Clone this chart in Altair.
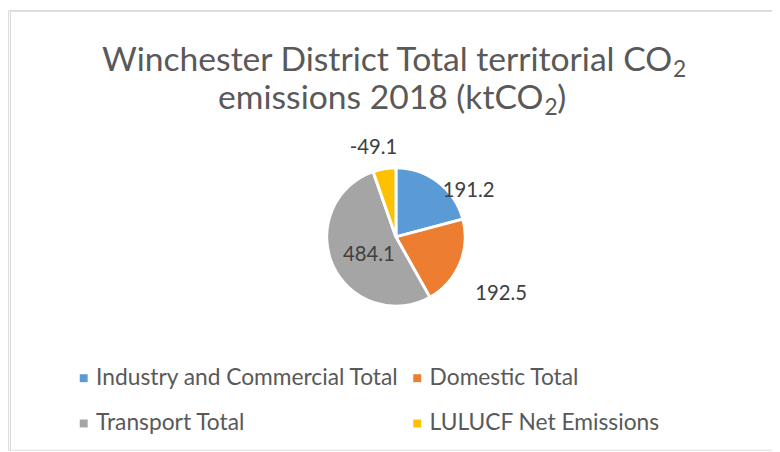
import altair as alt
import pandas as pd

categories = ["Industry and Commercial Total", "Domestic Total", "Transport Total", "LULUCF Net Emissions"]
values = [191.2, 192.5, 484.1, -49.1]
colors = ["#5B9BD5", "#ED7D31", "#A5A5A5", "#FFC000"]
title_line1 = "Winchester District Total territorial CO"
title_line2 = "emissions 2018 (ktCO"
title_sub = "2"
title_close = ")"

FONT = "Lato"
W, H = 772, 444
CX, CY, R = 392, 229, 70

df = pd.DataFrame({"category": categories, "value": values, "order": list(range(len(categories)))})

# label layout (Excel "best fit" style): radius and angular shift per slice
lab_rad = {categories[0]: 87, categories[1]: 121, categories[2]: 33, categories[3]: 93}
lab_shift = {categories[0]: 20, categories[1]: 5.6, categories[2]: -10, categories[3]: -4.5}

def case_expr(d):
    expr = "0"
    for k, v in d.items():
        expr = f"datum.category === '{k}' ? {v} : ({expr})"
    return expr

base = alt.Chart(df).transform_calculate(absval="abs(datum.value)")

pie = base.mark_arc(outerRadius=R, stroke="white", strokeWidth=3).encode(
    theta=alt.Theta("absval:Q", stack=True),
    order=alt.Order("order:Q"),
    color=alt.Color(
        "category:N",
        scale=alt.Scale(domain=categories, range=colors),
        sort=categories,
        legend=alt.Legend(
            orient="none", legendX=65, legendY=360, columns=2, direction="horizontal",
            title=None, symbolType="square", symbolSize=64, symbolStrokeWidth=0,
            labelFontSize=23, labelFont=FONT, labelColor="#595959",
            labelOffset=1, labelLimit=0, rowPadding=22, columnPadding=6,
        ),
    ),
    x=alt.value(CX),
    y=alt.value(CY),
)

labels = base.transform_joinaggregate(
    total="sum(absval)"
).transform_window(
    cum="sum(absval)", sort=[alt.SortField("order")], frame=[None, 0]
).transform_calculate(
    mid="(datum.cum - datum.absval/2) / datum.total * 360",
    rad=case_expr(lab_rad),
    shift=case_expr(lab_shift),
    label="toString(datum.value)",
).transform_calculate(
    ang="(datum.mid + datum.shift) * PI / 180",
).transform_calculate(
    lx=f"{CX} + datum.rad * sin(datum.ang)",
    ly=f"{CY} - datum.rad * cos(datum.ang)",
).mark_text(font=FONT, fontSize=20.5, color="#404040", align="center", baseline="middle").encode(
    x=alt.X("lx:Q", scale=None, axis=None),
    y=alt.Y("ly:Q", scale=None, axis=None),
    text="label:N",
)

tdf1 = pd.DataFrame({"t": [title_line1]})
tdf2 = pd.DataFrame({"t": [title_line2]})
sdf = pd.DataFrame({"t": [title_sub]})
cdf = pd.DataFrame({"t": [title_close]})

TS = 34
SS = 23
t1 = alt.Chart(tdf1).mark_text(font=FONT, fontSize=TS, color="#595959", align="right", baseline="alphabetic").encode(
    x=alt.value(671), y=alt.value(61), text="t:N")
s1 = alt.Chart(sdf).mark_text(font=FONT, fontSize=SS, color="#595959", align="left", baseline="alphabetic").encode(
    x=alt.value(672), y=alt.value(67), text="t:N")
t2 = alt.Chart(tdf2).mark_text(font=FONT, fontSize=TS, color="#595959", align="right", baseline="alphabetic").encode(
    x=alt.value(541), y=alt.value(100), text="t:N")
s2 = alt.Chart(sdf).mark_text(font=FONT, fontSize=SS, color="#595959", align="left", baseline="alphabetic").encode(
    x=alt.value(542), y=alt.value(106), text="t:N")
c2 = alt.Chart(cdf).mark_text(font=FONT, fontSize=TS, color="#595959", align="left", baseline="alphabetic").encode(
    x=alt.value(555), y=alt.value(100), text="t:N")

border_top = alt.Chart(df).mark_rule(color="#d9d9d9", strokeWidth=1).encode(
    x=alt.value(2), x2=alt.value(W), y=alt.value(0.5))
border_left = alt.Chart(df).mark_rule(color="#d9d9d9", strokeWidth=1).encode(
    x=alt.value(2.5), y=alt.value(0), y2=alt.value(H))

chart = alt.layer(border_top, border_left, pie, labels, t1, s1, t2, s2, c2).properties(
    width=W, height=H, padding=0, autosize=alt.AutoSizeParams(type="none")
).configure_view(stroke=None).configure(background="white")

chart.save("out.html", embed_options={"renderer": "svg", "actions": False})
